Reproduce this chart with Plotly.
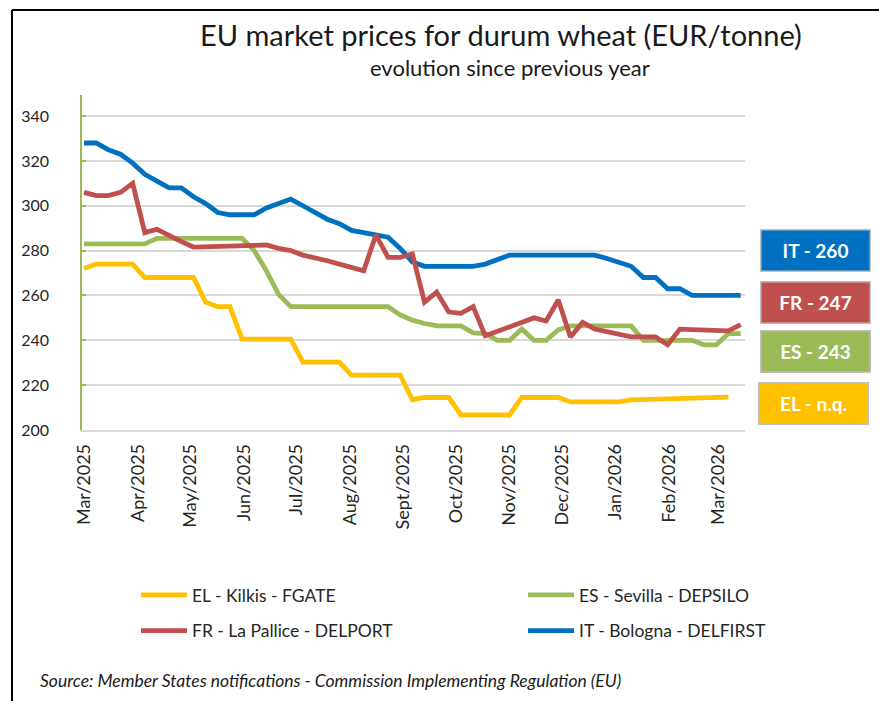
import datetime as dt
import plotly.graph_objects as go

# ── data (weekly quotations, EUR/tonne) ─────────────────────────────────────
START = dt.date(2025, 3, 3)
N_WEEKS = 55
dates = [START + dt.timedelta(days=7 * i) for i in range(N_WEEKS)]

el_kilkis = [272, 274, 274, 274, 274, 268, 268, 268, 268, 268,
             257, 255, 255, 240.5, 240.5, 240.5, 240.5, 240.5, 230.3, 230.3,
             230.3, 230.3, 224.5, 224.5, 224.5, 224.5, 224.5, 213.5, 214.5, 214.5,
             214.5, 206.7, 206.7, 206.7, 206.7, 206.7, 214.5, 214.5, 214.5, 214.5,
             212.5, 212.5, 212.5, 212.5, 212.5, 213.4, 213.5, 213.7, 213.9, 214.1,
             214.2, 214.4, 214.5, 214.7, None]

es_sevilla = [283, 283, 283, 283, 283, 283, 285.5, 285.5, 285.5, 285.5,
              285.5, 285.5, 285.5, 285.5, 280, 271, 260.5, 255, 255, 255,
              255, 255, 255, 255, 255, 255, 251.3, 249, 247.5, 246.5,
              246.4, 246.4, 243.3, 243, 240, 240, 245, 240, 240, 244.6,
              246.4, 246.4, 246.4, 246.4, 246.4, 246.4, 240, 240, 240, 240,
              240, 238, 238, 243, 243]

fr_lapallice = [306, 304.5, 304.5, 306, 310, 288, 289.5, 286.5, 284, 281.6,
                281.7, 281.8, 282, 282.2, 282.3, 282.5, 281, 280, 278, 277,
                275.5, 274, 272.5, 271, 287, 277, 277, 278.5, 257, 261.5,
                252.6, 252, 255, 242, 244, 246, 248, 250, 248.6, 258,
                241.5, 248, 245, 244, 243, 241.5, 241.5, 241.5, 238, 245,
                244.8, 244.6, 244.4, 244.2, 247]

it_bologna = [328, 328, 325, 323, 319, 314, 311, 308, 308, 304,
              301, 297, 296, 296, 296, 299, 301, 303, 300, 297,
              294, 292, 289, 288, 287, 286, 281, 275, 273, 273,
              273, 273, 273, 274, 276, 278, 278, 278, 278, 278,
              278, 278, 278, 276.5, 275, 273, 268, 268, 263, 263,
              260, 260, 260, 260, 260]

month_ticks = [dt.date(2025 + (2 + m) // 12, (2 + m) % 12 + 1, 3) for m in range(13)]
month_labels = ["Mar/2025", "Apr/2025", "May/2025", "Jun/2025", "Jul/2025",
                "Aug/2025", "Sept/2025", "Oct/2025", "Nov/2025", "Dec/2025",
                "Jan/2026", "Feb/2026", "Mar/2026"]

COLORS = {"EL": "#FFC000", "ES": "#9BBB59", "FR": "#C0504D", "IT": "#0070C0"}
FONT = "Lato, 'Open Sans', sans-serif"
TXT = "#262626"

# target pixel layout (887 x 701 window); the page body adds an 8px offset
OFF = 8
W, H = 887, 701
L, R, T, B = 82, 745, 95, 430


def px(x):
    return (x - L) / (R - L)


def py(y):
    return (B - y) / (B - T)


fig = go.Figure()
# (name, values, colour key, legend id)
series = [
    ("EL - Kilkis - FGATE", el_kilkis, "EL", "legend"),
    ("ES - Sevilla - DEPSILO", es_sevilla, "ES", "legend2"),
    ("IT - Bologna - DELFIRST", it_bologna, "IT", "legend2"),
    ("FR - La Pallice - DELPORT", fr_lapallice, "FR", "legend"),
]
rank = {"EL": 1, "FR": 2, "ES": 1, "IT": 2}
for name, vals, key, leg in series:
    fig.add_trace(go.Scatter(
        x=dates, y=vals, name=name, mode="lines", legend=leg,
        legendgroup=key, legendrank=rank[key],
        line=dict(color=COLORS[key], width=4.8), connectgaps=False,
    ))

# ── latest-price boxes on the right ─────────────────────────────────────────
boxes = [
    (f"IT - {it_bologna[-1]:.0f}", COLORS["IT"], 815, 250),
    (f"FR - {fr_lapallice[-1]:.0f}", COLORS["FR"], 815, 302),
    (f"ES - {es_sevilla[-1]:.0f}", COLORS["ES"], 815, 351),
    ("EL - n.q.", COLORS["EL"], 813, 403),
]
annotations = []
for label, col, cx, cy in boxes:
    annotations.append(dict(
        text=f"<b>{label}</b>", x=px(cx), y=py(cy), xref="paper", yref="paper",
        showarrow=False, width=106, height=38, bgcolor=col,
        bordercolor="#BFBFBF", borderwidth=1.5, xanchor="center", yanchor="middle",
        font=dict(family=FONT, size=19, color="white"),
    ))

annotations += [
    dict(text="EU market prices for durum wheat (EUR/tonne)", x=px(501), y=py(35),
         xref="paper", yref="paper", showarrow=False, xanchor="center", yanchor="middle",
         font=dict(family=FONT, size=29, color="#1a1a1a")),
    dict(text="evolution since previous year", x=px(510), y=py(68),
         xref="paper", yref="paper", showarrow=False, xanchor="center", yanchor="middle",
         font=dict(family=FONT, size=22, color="#1a1a1a")),
    dict(text="<i>Source: Member States notifications - Commission Implementing Regulation (EU)</i>",
         x=px(38), y=py(680), xref="paper", yref="paper", showarrow=False,
         xanchor="left", yanchor="middle", font=dict(family=FONT, size=17.5, color="#1a1a1a")),
]

# black frame (top and left edges)
shapes = [
    dict(type="line", xref="paper", yref="paper", x0=px(12), x1=px(W + 5),
         y0=py(10), y1=py(10), line=dict(color="black", width=2)),
    dict(type="line", xref="paper", yref="paper", x0=px(12), x1=px(12),
         y0=py(10), y1=py(H + 5), line=dict(color="black", width=2)),
]

legend_style = dict(orientation="v", yanchor="top", xanchor="left", tracegroupgap=10,
                    itemwidth=46, bgcolor="rgba(0,0,0,0)", traceorder="grouped",
                    font=dict(family=FONT, size=17.5, color=TXT))

fig.update_layout(
    width=W - OFF, height=H - OFF,
    margin=dict(l=L - OFF, r=W - R, t=T - OFF, b=H - B, pad=0),
    paper_bgcolor="white", plot_bgcolor="white",
    font=dict(family=FONT, size=16, color=TXT),
    showlegend=True,
    legend=dict(x=px(136), y=py(577), **legend_style),
    legend2=dict(x=px(523), y=py(577), **legend_style),
    annotations=annotations,
    shapes=shapes,
    xaxis=dict(
        type="date", range=[dt.datetime(2025, 3, 1, 20), dt.datetime(2026, 3, 18, 12)],
        tickmode="array", tickvals=month_ticks, ticktext=month_labels,
        tickangle=-90, showgrid=False, zeroline=False,
        showline=True, linecolor="#D9D9D9", linewidth=1.5,
        ticks="", ticklabelstandoff=5, tickfont=dict(family=FONT, size=18, color=TXT),
    ),
    yaxis=dict(
        range=[200, 349.4], tick0=200, dtick=20, showgrid=True,
        gridcolor="#D9D9D9", gridwidth=1.5, zeroline=False,
        showline=True, linecolor="#9BBB59", linewidth=1.5,
        ticks="inside", ticklen=4, tickcolor="#9BBB59", tickwidth=1.5,
        ticklabelstandoff=28, tickfont=dict(family=FONT, size=16, color=TXT),
    ),
)

fig.write_html("out.html")
